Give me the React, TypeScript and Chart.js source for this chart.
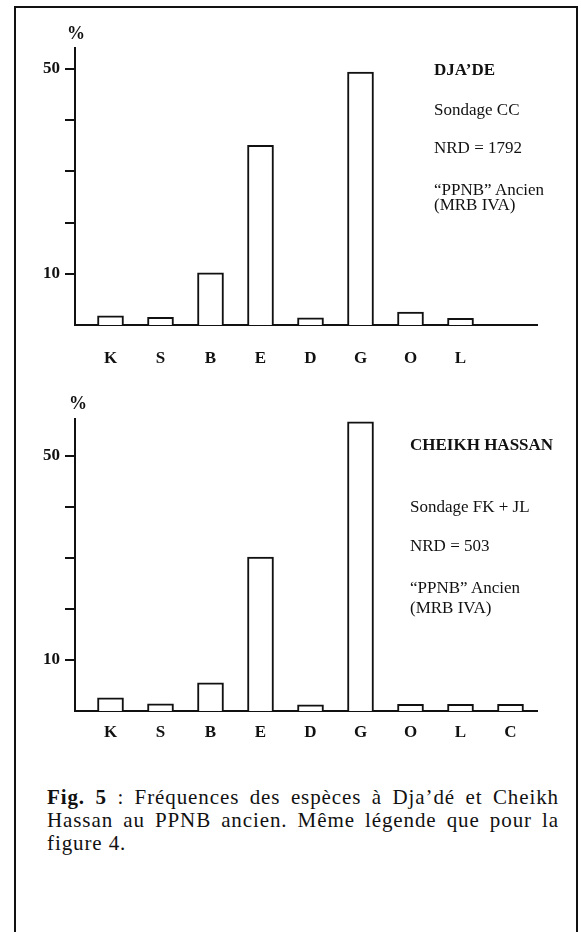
import React, { useEffect, useRef } from "react";
import { Chart, registerables } from "chart.js";

Chart.register(...registerables);

// ---- data ----
const topCategories = ["K", "S", "B", "E", "D", "G", "O", "L"];
const topValues = [1.8, 1.5, 10.2, 35.1, 1.4, 49.4, 2.5, 1.3];

const bottomCategories = ["K", "S", "B", "E", "D", "G", "O", "L", "C"];
const bottomValues = [2.6, 1.4, 5.5, 30.2, 1.2, 56.7, 1.3, 1.3, 1.3];

const yTickValues = [10, 20, 30, 40, 50];
const yLabeledTicks = [10, 50];

const topYMax = 54.1;
const bottomYMax = 57.25;
const xMin = -0.71;
const xMax = 8.53;

const INK = "#111";
const SERIF = '"Liberation Serif", "Times New Roman", serif';

type PanelProps = {
  categories: string[];
  values: number[];
  yMax: number;
  height: number;
  padTop: number;
  xAxisHeight: number;
  labelPadding: number;
};

function Panel({ categories, values, yMax, height, padTop, xAxisHeight, labelPadding }: PanelProps) {
  const ref = useRef<HTMLCanvasElement | null>(null);
  useEffect(() => {
    if (!ref.current) return;
    const chart = new Chart(ref.current, {
      type: "bar",
      data: {
        datasets: [
          {
            data: categories.map((_, i) => ({ x: i, y: values[i] })),
            backgroundColor: "#fff",
            borderColor: INK,
            borderWidth: 2,
            borderSkipped: "bottom",
            barThickness: 26,
          } as any,
        ],
      },
      options: {
        responsive: false,
        animation: false,
        devicePixelRatio: 1,
        layout: { padding: { left: 0, right: 44, top: padTop, bottom: 0 } },
        plugins: { legend: { display: false }, tooltip: { enabled: false } },
        scales: {
          x: {
            type: "linear",
            min: xMin,
            max: xMax,
            offset: false,
            afterBuildTicks: (s: any) => {
              s.ticks = categories.map((_, i) => ({ value: i }));
            },
            afterFit: (s: any) => {
              s.height = xAxisHeight;
            },
            grid: { display: false },
            border: { display: true, color: INK, width: 2 },
            ticks: {
              autoSkip: false,
              maxRotation: 0,
              padding: labelPadding,
              color: INK,
              font: { family: SERIF, size: 17, weight: "bold" },
              callback: (v: any) => categories[v as number] ?? "",
            },
          },
          y: {
            min: 0,
            max: yMax,
            afterBuildTicks: (s: any) => {
              s.ticks = yTickValues.map((v) => ({ value: v }));
            },
            afterFit: (s: any) => {
              s.width = 75;
            },
            grid: {
              display: true,
              drawOnChartArea: false,
              drawTicks: true,
              tickLength: 10,
              color: INK,
              lineWidth: 2,
            },
            border: { display: true, color: INK, width: 2 },
            ticks: {
              padding: 5,
              color: INK,
              font: { family: SERIF, size: 17, weight: "bold" },
              callback: (v: any) => (yLabeledTicks.includes(v as number) ? String(v) : ""),
            },
          },
        },
      } as any,
    });
    return () => chart.destroy();
  }, []);
  return <canvas ref={ref} width={581} height={height} style={{ width: 581, height, display: "block" }} />;
}

function Txt({ x, y, children, bold, size = 17 }: { x: number; y: number; children: React.ReactNode; bold?: boolean; size?: number }) {
  return (
    <div
      style={{
        position: "absolute",
        left: x,
        top: y - 10,
        lineHeight: "20px",
        fontSize: size,
        fontWeight: bold ? "bold" : "normal",
        whiteSpace: "nowrap",
      }}
    >
      {children}
    </div>
  );
}

export default function App() {
  useEffect(() => {
    document.body.style.margin = "0";
    document.body.style.overflow = "hidden";
  }, []);
  return (
    <div
      style={{
        position: "relative",
        width: 581,
        height: 932,
        overflow: "hidden",
        background: "#fff",
        fontFamily: SERIF,
        color: INK,
      }}
    >
      <div
        style={{
          position: "absolute",
          left: 14,
          top: 6,
          width: 564,
          height: 980,
          border: `2px solid ${INK}`,
          boxSizing: "border-box",
        }}
      />
      <div style={{ position: "absolute", left: 0, top: 0 }}>
        <Panel
          categories={topCategories}
          values={topValues}
          yMax={topYMax}
          height={380}
          padTop={48}
          xAxisHeight={55}
          labelPadding={15.5}
        />
      </div>
      <div style={{ position: "absolute", left: 0, top: 380 }}>
        <Panel
          categories={bottomCategories}
          values={bottomValues}
          yMax={bottomYMax}
          height={400}
          padTop={39}
          xAxisHeight={69}
          labelPadding={3.5}
        />
      </div>

      <Txt x={67} y={33} bold size={18}>%</Txt>
      <Txt x={69} y={403} bold size={18}>%</Txt>

      <Txt x={434} y={70} bold>DJA’DE</Txt>
      <Txt x={434} y={110}>Sondage CC</Txt>
      <Txt x={434} y={148}>NRD = 1792</Txt>
      <Txt x={434} y={190}>“PPNB” Ancien</Txt>
      <Txt x={434} y={205}>(MRB IVA)</Txt>

      <Txt x={410} y={445} bold>CHEIKH HASSAN</Txt>
      <Txt x={410} y={507}>Sondage FK + JL</Txt>
      <Txt x={410} y={546}>NRD = 503</Txt>
      <Txt x={410} y={588}>“PPNB” Ancien</Txt>
      <Txt x={410} y={608}>(MRB IVA)</Txt>

      <div
        style={{
          position: "absolute",
          left: 47,
          top: 797 - 11.5,
          width: 512,
          fontSize: 21,
          letterSpacing: "0.9px",
          lineHeight: "23px",
        }}
      >
        <div style={{ textAlign: "justify", textAlignLast: "justify" as any }}>
          <b>Fig. 5</b> : Fréquences des espèces à Dja’dé et Cheikh
        </div>
        <div style={{ textAlign: "justify", textAlignLast: "justify" as any }}>
          Hassan au PPNB ancien. Même légende que pour la
        </div>
        <div>figure 4.</div>
      </div>
    </div>
  );
}
